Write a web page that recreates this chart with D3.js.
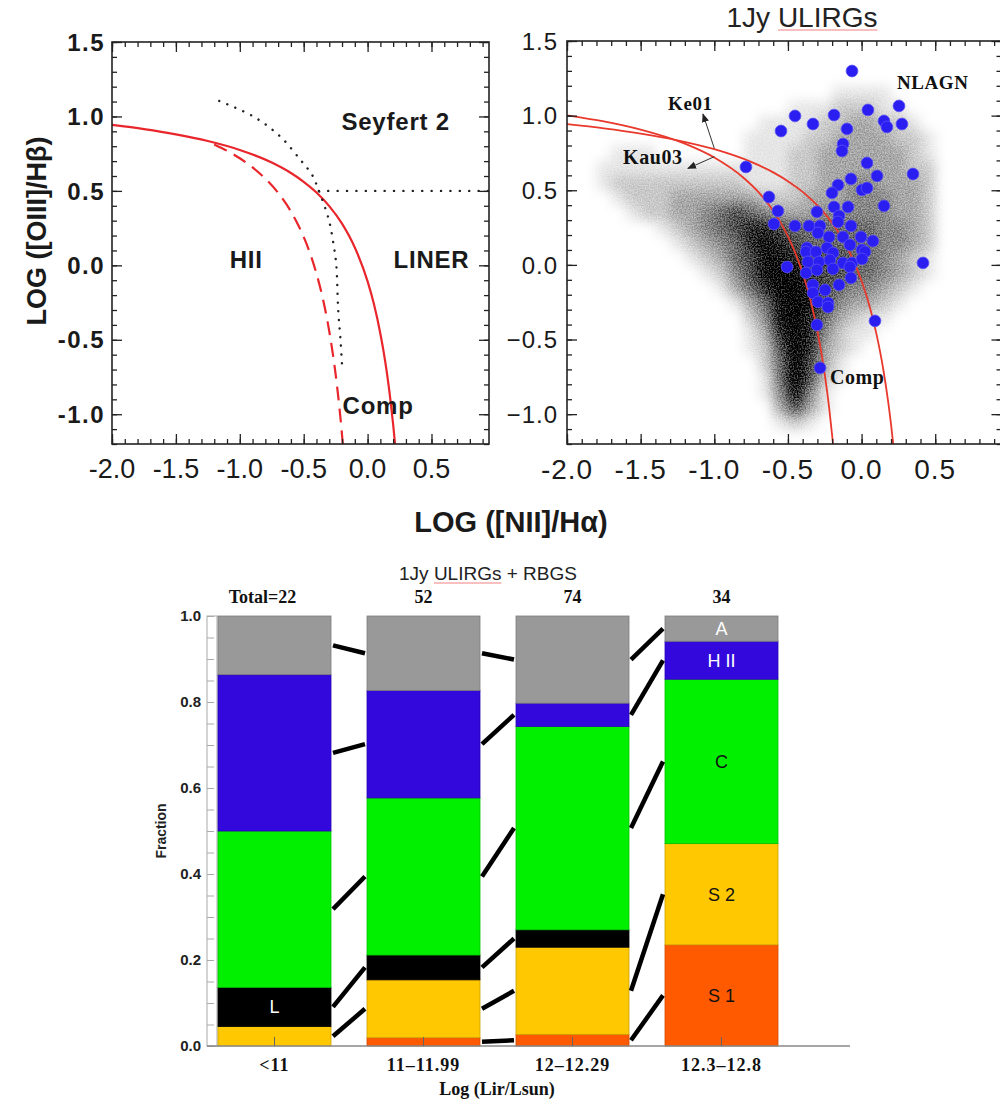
<!DOCTYPE html>
<html>
<head>
<meta charset="utf-8">
<script src="https://cdn.jsdelivr.net/npm/d3@7"></script>
<style>
  body { margin: 0; background: #fff; }
  svg { display: block; }
</style>
</head>
<body>
<svg id="fig" width="1000" height="1103"></svg>
<script>
// ---------------- data ----------------
// Diagnostic curves in the log([NII]/Ha) – log([OIII]/Hb) plane
const ke01Curve = [[-2.0,0.943],[-1.75,0.915],[-1.5,0.880],[-1.25,0.835],[-1.0,0.775],[-0.75,0.690],
  [-0.6,0.620],[-0.5,0.561],[-0.4,0.489],[-0.3,0.398],[-0.2,0.280],[-0.1,0.120],[0.0,-0.108],
  [0.05,-0.262],[0.1,-0.459],[0.125,-0.578],[0.15,-0.716],[0.18,-0.913],[0.2,-1.069],[0.215,-1.202]];
const kau03Curve = [[-2.0,1.002],[-1.75,0.961],[-1.5,0.906],[-1.2,0.812],[-1.0,0.719],[-0.8,0.582],
  [-0.7,0.487],[-0.6,0.362],[-0.55,0.283],[-0.5,0.191],[-0.45,0.080],[-0.4,-0.056],[-0.35,-0.225],
  [-0.3,-0.443],[-0.25,-0.733],[-0.22,-0.959],[-0.2,-1.140],[-0.194,-1.200]];
const dottedCurve = [[-1.161,1.104],[-0.892,0.999],[-0.682,0.864],[-0.525,0.708],[-0.434,0.607],
  [-0.382,0.502],[-0.303,0.305],[-0.264,0.126],[-0.245,0.003],[-0.230,-0.300],[-0.212,-0.500],[-0.198,-0.701]];
const seyfertLine = [[-0.382,0.5],[0.95,0.5]];

// 1Jy ULIRG line ratios (log [NII]/Ha, log [OIII]/Hb)
const ulirgX = [-0.065,-0.452,-0.187,0.043,0.254,-0.330,-0.547,-0.099,0.152,0.172,0.274,-0.126,-0.133,
  -0.785,0.037,0.105,0.349,-0.072,-0.160,-0.201,0.003,0.037,-0.629,0.152,-0.187,-0.092,-0.568,-0.303,
  -0.153,-0.595,-0.452,-0.357,-0.282,-0.160,-0.072,-0.296,-0.004,0.077,-0.221,-0.126,-0.371,-0.506,
  -0.377,-0.310,-0.235,-0.194,-0.079,0.003,0.023,-0.364,-0.289,-0.215,-0.126,-0.065,0.003,-0.377,
  -0.303,-0.194,-0.079,-0.072,-0.153,-0.330,-0.330,-0.248,-0.296,-0.228,-0.228,-0.303,0.091,0.417,-0.282];
const ulirgY = [1.299,0.998,1.004,1.038,1.065,0.944,0.897,0.911,0.964,0.924,0.944,0.810,0.763,
  0.656,0.683,0.596,0.609,0.576,0.535,0.482,0.502,0.515,0.455,0.395,0.388,0.388,0.361,0.355,
  0.328,0.274,0.261,0.261,0.261,0.288,0.261,0.214,0.187,0.160,0.187,0.187,0.114,-0.014,
  0.087,0.087,0.114,0.080,0.134,0.100,0.087,0.020,0.020,0.033,0.013,0.013,0.040,-0.054,
  -0.034,-0.027,-0.014,-0.087,-0.134,-0.134,-0.188,-0.168,-0.248,-0.255,-0.282,-0.402,-0.375,0.013,-0.690];

// SDSS emission-line galaxy density, 0.1 dex cells
// columns: log[NII]/Ha from -1.8 to 0.6, rows: log[OIII]/Hb from 1.3 down to -1.2
const sdssGridX0 = -1.8, sdssGridY0 = 1.3, sdssCell = 0.1;
const sdssDensity = [
  "000000000000000000000000",
  "000000000000000011110000",
  "000000000000011122211000",
  "000000000001111223322100",
  "000000000011112233332210",
  "011100000011122333333210",
  "111111111111122333333220",
  "122222222211122334433320",
  "012223333332223334443320",
  "001223345654333444443320",
  "000012345677655555544320",
  "000001234578765555544320",
  "000000123568876665543210",
  "000000012468987665543210",
  "000000001357997654432100",
  "000000000135898643321000",
  "000000000024897532110000",
  "000000000013797421100000",
  "000000000012697321000000",
  "000000000002596310000000",
  "000000000001596210000000",
  "000000000001484100000000",
  "000000000000363100000000",
  "000000000000121000000000",
  "000000000000000000000000"
];
const densityShade = [0, 0.09, 0.2, 0.32, 0.44, 0.55, 0.67, 0.81, 0.93, 1];

// Spectral class counts per infrared luminosity bin
const lumBins = ["<11", "11\u201311.99", "12\u201312.29", "12.3\u201312.8"];
const classKeys = ["S1", "S2", "L", "C", "HII", "A"];
const countS1  = [0, 1, 2, 8];
const countS2  = [1, 7, 15, 8];
const countL   = [2, 3, 3, 0];
const countC   = [8, 19, 35, 13];
const countHII = [8, 13, 4, 3];
const countA   = [3, 9, 15, 2];
const fractionTicks = [0, 0.2, 0.4, 0.6, 0.8, 1.0];

// ---------------- setup ----------------
const sans = "'Liberation Sans', Arial, Helvetica, sans-serif";
const serif = "'Liberation Serif', 'Times New Roman', Times, serif";
const svg = d3.select("#fig");
const defs = svg.append("defs");

const xDomain = [-2.0, 0.95], yDomain = [-1.2, 1.5];
const xL = d3.scaleLinear().domain(xDomain).range([112, 489]);
const yL = d3.scaleLinear().domain(yDomain).range([444, 42]);
const xR = d3.scaleLinear().domain(xDomain).range([567, 1001.5]);
const yR = d3.scaleLinear().domain(yDomain).range([444, 41]);

const xMinor = d3.range(-20, 10).map(d => d / 10);
const yMinor = d3.range(-12, 16).map(d => d / 10);
const xMajor = [-2, -1.5, -1, -0.5, 0, 0.5];
const yMajor = [-1, -0.5, 0, 0.5, 1, 1.5];

function drawFrame(g, x, y) {
  const [xa, xb] = x.range(), [yb, ya] = y.range();
  const sides = [
    [() => d3.axisBottom(x), `translate(0,${yb})`, xMinor, xMajor],
    [() => d3.axisTop(x), `translate(0,${ya})`, xMinor, xMajor],
    [() => d3.axisLeft(y), `translate(${xa},0)`, yMinor, yMajor],
    [() => d3.axisRight(y), `translate(${xb},0)`, yMinor, yMajor]
  ];
  sides.forEach(([mk, t, minor, major]) => {
    [[minor, -5], [major, -10]].forEach(([vals, len]) => {
      const a = g.append("g").attr("transform", t)
        .call(mk().tickValues(vals).tickSize(len).tickFormat(""));
      a.select(".domain").remove();
      a.selectAll("line").attr("stroke", "#222").attr("stroke-width", 1.3);
    });
  });
  g.append("rect").attr("x", xa).attr("y", ya).attr("width", xb - xa).attr("height", yb - ya)
    .attr("fill", "none").attr("stroke", "#222").attr("stroke-width", 1.6);
}

const lineGen = (x, y) => d3.line().x(d => x(d[0])).y(d => y(d[1])).curve(d3.curveMonotoneX);

// ---------------- left panel: classification scheme ----------------
const gL = svg.append("g");
defs.append("clipPath").attr("id", "clipL").append("rect")
  .attr("x", 112).attr("y", 42).attr("width", 377).attr("height", 402);
const gLc = gL.append("g").attr("clip-path", "url(#clipL)");

gLc.append("path").datum(ke01Curve).attr("d", lineGen(xL, yL))
  .attr("fill", "none").attr("stroke", "#e8262c").attr("stroke-width", 2.2);
gLc.append("path").datum(kau03Curve.filter(d => d[0] >= -1.2)).attr("d", lineGen(xL, yL))
  .attr("fill", "none").attr("stroke", "#e8262c").attr("stroke-width", 2.2).attr("stroke-dasharray", "14,8");
gLc.append("path").datum(dottedCurve).attr("d", d3.line().x(d => xL(d[0])).y(d => yL(d[1])).curve(d3.curveCatmullRom))
  .attr("fill", "none").attr("stroke", "#222").attr("stroke-width", 2.4)
  .attr("stroke-linecap", "round").attr("stroke-dasharray", "0.1,8.6");
gLc.append("path").datum(seyfertLine).attr("d", d3.line().x(d => xL(d[0])).y(d => yL(d[1])))
  .attr("fill", "none").attr("stroke", "#222").attr("stroke-width", 2.4)
  .attr("stroke-linecap", "round").attr("stroke-dasharray", "0.1,9.3");

drawFrame(gL, xL, yL);

gL.append("g").selectAll("text").data(yMajor).join("text")
  .attr("x", 105).attr("y", d => yL(d)).attr("dy", "0.36em")
  .attr("text-anchor", "end").attr("font-family", sans).attr("font-weight", "bold")
  .attr("font-size", 24).attr("letter-spacing", 1.5).attr("fill", "#1a1a1a")
  .text(d => d.toFixed(1));
gL.append("g").selectAll("text").data(xMajor).join("text")
  .attr("x", d => xL(d)).attr("y", 478)
  .attr("text-anchor", "middle").attr("font-family", sans)
  .attr("font-size", 27).attr("fill", "#1a1a1a")
  .text(d => d.toFixed(1));

const leftLabels = [
  { t: "Seyfert 2", x: 0.22, y: 0.91, a: "middle" },
  { t: "HII", x: -0.95, y: -0.02, a: "middle" },
  { t: "LINER", x: 0.5, y: -0.02, a: "middle" },
  { t: "Comp", x: -0.196, y: -0.997, a: "start" }
];
gL.append("g").selectAll("text").data(leftLabels).join("text")
  .attr("x", d => xL(d.x)).attr("y", d => yL(d.y)).attr("text-anchor", d => d.a)
  .attr("font-family", sans).attr("font-weight", "bold").attr("font-size", 24)
  .attr("letter-spacing", 0.8).attr("fill", "#1a1a1a").text(d => d.t);

svg.append("text").attr("transform", "translate(46,231) rotate(-90)")
  .attr("text-anchor", "middle").attr("font-family", sans).attr("font-weight", "bold")
  .attr("font-size", 27).attr("fill", "#1a1a1a").text("LOG ([OIII]/H\u03B2)");
svg.append("text").attr("x", 511).attr("y", 532)
  .attr("text-anchor", "middle").attr("font-family", sans).attr("font-weight", "bold")
  .attr("font-size", 29).attr("fill", "#1a1a1a").text("LOG ([NII]/H\u03B1)");

// ---------------- right panel: 1Jy ULIRGs on the SDSS locus ----------------
const gR = svg.append("g");
defs.append("clipPath").attr("id", "clipR").append("rect")
  .attr("x", 567).attr("y", 41).attr("width", 434.5).attr("height", 403);

// density field rendered as a softly speckled cloud
const cloudFx = defs.append("filter").attr("id", "cloudFx").attr("filterUnits", "userSpaceOnUse")
  .attr("x", 560).attr("y", 35).attr("width", 450).attr("height", 415)
  .attr("color-interpolation-filters", "sRGB");
cloudFx.append("feGaussianBlur").attr("in", "SourceGraphic").attr("stdDeviation", 6).attr("result", "soft");
cloudFx.append("feTurbulence").attr("type", "fractalNoise").attr("baseFrequency", 0.75)
  .attr("numOctaves", 1).attr("seed", 5).attr("result", "noise");
cloudFx.append("feColorMatrix").attr("in", "noise").attr("type", "matrix")
  .attr("values", "0 0 0 0 0  0 0 0 0 0  0 0 0 0 0  2.5 0 0 0 -0.75").attr("result", "grain");
cloudFx.append("feComposite").attr("in", "soft").attr("in2", "grain").attr("operator", "arithmetic")
  .attr("k1", 0.6).attr("k2", 0.72).attr("k3", 0).attr("k4", 0).attr("result", "mix");
cloudFx.append("feColorMatrix").attr("in", "mix").attr("type", "matrix")
  .attr("values", "0 0 0 0 0  0 0 0 0 0  0 0 0 0 0  0 0 0 1 0");

const gRc = gR.append("g").attr("clip-path", "url(#clipR)");
const cells = [];
sdssDensity.forEach((row, j) => {
  row.split("").forEach((c, i) => {
    const v = +c;
    if (v > 0) cells.push({ x: sdssGridX0 + i * sdssCell, y: sdssGridY0 - j * sdssCell, v });
  });
});
gRc.append("g").attr("filter", "url(#cloudFx)")
  .selectAll("rect").data(cells).join("rect")
  .attr("x", d => xR(d.x)).attr("y", d => yR(d.y))
  .attr("width", xR(sdssCell) - xR(0) + 0.5).attr("height", yR(0) - yR(sdssCell) + 0.5)
  .attr("fill", "#000").attr("fill-opacity", d => densityShade[d.v]);

gRc.append("path").datum(ke01Curve).attr("d", lineGen(xR, yR))
  .attr("fill", "none").attr("stroke", "#e8392c").attr("stroke-width", 1.8);
gRc.append("path").datum(kau03Curve).attr("d", lineGen(xR, yR))
  .attr("fill", "none").attr("stroke", "#e8392c").attr("stroke-width", 1.8);

gRc.append("g").selectAll("circle").data(ulirgX.map((x, i) => [x, ulirgY[i]])).join("circle")
  .attr("cx", d => xR(d[0])).attr("cy", d => yR(d[1])).attr("r", 5.9)
  .attr("fill", "#2a1ef0").attr("stroke", "#5a52f5").attr("stroke-width", 0.8);

drawFrame(gR, xR, yR);

// arrows pointing to the curve labels
defs.append("marker").attr("id", "arrowHead").attr("viewBox", "0 0 10 10")
  .attr("refX", 9).attr("refY", 5).attr("markerWidth", 9).attr("markerHeight", 9)
  .attr("markerUnits", "userSpaceOnUse").attr("orient", "auto")
  .append("path").attr("d", "M0,1 L10,5 L0,9 Z").attr("fill", "#222");
const arrows = [
  [[-1.0, 0.781], [-1.077, 1.011]],
  [[-1.0, 0.725], [-1.179, 0.646]]
];
gR.append("g").selectAll("line").data(arrows).join("line")
  .attr("x1", d => xR(d[0][0])).attr("y1", d => yR(d[0][1]))
  .attr("x2", d => xR(d[1][0])).attr("y2", d => yR(d[1][1]))
  .attr("stroke", "#333").attr("stroke-width", 1).attr("marker-end", "url(#arrowHead)");

const rightLabels = [
  { t: "Ke01", x: -1.314, y: 1.038, s: 19 },
  { t: "Kau03", x: -1.62, y: 0.676, s: 20 },
  { t: "NLAGN", x: 0.24, y: 1.18, s: 19 },
  { t: "Comp", x: -0.215, y: -0.80, s: 20 }
];
gR.append("g").selectAll("text").data(rightLabels).join("text")
  .attr("x", d => xR(d.x)).attr("y", d => yR(d.y))
  .attr("font-family", serif).attr("font-weight", "bold").attr("font-size", d => d.s)
  .attr("letter-spacing", 0.6).attr("fill", "#111").text(d => d.t);

gR.append("g").selectAll("text").data(yMajor).join("text")
  .attr("x", 558).attr("y", d => yR(d)).attr("dy", "0.36em")
  .attr("text-anchor", "end").attr("font-family", sans)
  .attr("font-size", 24).attr("letter-spacing", 1).attr("fill", "#1a1a1a")
  .text(d3.format(".1f"));
gR.append("g").selectAll("text").data(xMajor).join("text")
  .attr("x", d => xR(d)).attr("y", 479)
  .attr("text-anchor", "middle").attr("font-family", sans)
  .attr("font-size", 28).attr("letter-spacing", 1).attr("fill", "#1a1a1a")
  .text(d => d.toFixed(1));

function titleWithMark(x, y, size, text, from, len) {
  const t = svg.append("text").attr("x", x).attr("y", y).attr("text-anchor", "middle")
    .attr("font-family", sans).attr("font-size", size).attr("fill", "#222").text(text);
  const n = t.node();
  const x0 = n.getStartPositionOfChar(from).x;
  const w = n.getSubStringLength(from, len);
  svg.append("line").attr("x1", x0).attr("x2", x0 + w).attr("y1", y + 3).attr("y2", y + 3)
    .attr("stroke", "#f08080").attr("stroke-width", 1);
}
titleWithMark(802, 27, 28, "1Jy ULIRGs", 4, 6);

// ---------------- bottom: class fractions versus luminosity ----------------
const counts = { S1: countS1, S2: countS2, L: countL, C: countC, HII: countHII, A: countA };
const totals = lumBins.map((b, i) => d3.sum(classKeys, k => counts[k][i]));
const rows = lumBins.map((b, i) => {
  const r = { bin: b };
  classKeys.forEach(k => r[k] = counts[k][i] / totals[i]);
  return r;
});
const stacked = d3.stack().keys(classKeys)(rows);

const classColor = { S1: "#ff5a00", S2: "#ffc800", L: "#000000", C: "#00f000", HII: "#3308dc", A: "#999999" };
const xB = d3.scaleBand().domain(lumBins).range([218, 778]).paddingInner(0.2416).paddingOuter(0);
const yB = d3.scaleLinear().domain([0, 1]).range([1046, 616]);
const gB = svg.append("g");

// axis strip
gB.append("rect").attr("x", 207).attr("y", yB(1)).attr("width", 10).attr("height", yB(0) - yB(1))
  .attr("fill", "#fff").attr("stroke", "#aaa").attr("stroke-width", 1);
const yAx = gB.append("g").attr("transform", "translate(207,0)")
  .call(d3.axisRight(yB).tickValues(d3.range(0, 21).map(d => d / 20)).tickSize(7).tickFormat(""));
yAx.select(".domain").remove();
yAx.selectAll("line").attr("stroke", "#aaa").attr("stroke-width", 1);

gB.append("g").selectAll("text").data(fractionTicks).join("text")
  .attr("x", 201).attr("y", d => yB(d)).attr("dy", "0.36em").attr("text-anchor", "end")
  .attr("font-family", sans).attr("font-weight", "bold").attr("font-size", 15)
  .attr("fill", "#222").text(d => d.toFixed(1));
gB.append("text").attr("transform", "translate(166,831) rotate(-90)").attr("text-anchor", "middle")
  .attr("font-family", sans).attr("font-weight", "bold").attr("font-size", 14)
  .attr("fill", "#222").text("Fraction");

// stacked segments
gB.append("g").selectAll("g").data(stacked).join("g")
  .attr("fill", d => classColor[d.key])
  .attr("stroke", d => d3.color(classColor[d.key]).darker(0.6))
  .selectAll("rect").data(d => d.filter(s => s[1] - s[0] > 0)).join("rect")
  .attr("x", d => xB(d.data.bin)).attr("width", xB.bandwidth())
  .attr("y", d => yB(d[1])).attr("height", d => yB(d[0]) - yB(d[1]))
  .attr("stroke-width", 0.8);

// connectors between class midpoints of neighbouring bins
const links = [];
stacked.forEach(s => {
  for (let i = 0; i < lumBins.length - 1; i++) {
    const a = s[i], b = s[i + 1];
    if (a[1] - a[0] > 0 && b[1] - b[0] > 0) {
      links.push({
        x1: xB(lumBins[i]) + xB.bandwidth() + 2, y1: yB((a[0] + a[1]) / 2),
        x2: xB(lumBins[i + 1]) - 2, y2: yB((b[0] + b[1]) / 2)
      });
    }
  }
});
gB.append("g").selectAll("line").data(links).join("line")
  .attr("x1", d => d.x1).attr("y1", d => d.y1).attr("x2", d => d.x2).attr("y2", d => d.y2)
  .attr("stroke", "#000").attr("stroke-width", 4.5);

// baseline and bin ticks
gB.append("line").attr("x1", 207).attr("x2", 850).attr("y1", yB(0)).attr("y2", yB(0))
  .attr("stroke", "#888").attr("stroke-width", 1.5);
const xAx = gB.append("g").attr("transform", `translate(0,${yB(0)})`)
  .call(d3.axisTop(xB).tickSize(9).tickFormat(""));
xAx.select(".domain").remove();
xAx.selectAll("line").attr("stroke", "#666").attr("stroke-width", 1);

// class labels inside segments
const segLabels = [
  { bin: 3, key: "A", text: "A", fill: "#fff" },
  { bin: 3, key: "HII", text: "H II", fill: "#fff" },
  { bin: 3, key: "C", text: "C", fill: "#111" },
  { bin: 3, key: "S2", text: "S 2", fill: "#111" },
  { bin: 3, key: "S1", text: "S 1", fill: "#111" },
  { bin: 0, key: "L", text: "L", fill: "#fff" }
];
gB.append("g").selectAll("text").data(segLabels).join("text")
  .attr("x", d => xB(lumBins[d.bin]) + xB.bandwidth() / 2)
  .attr("y", d => { const s = stacked.find(q => q.key === d.key)[d.bin]; return yB((s[0] + s[1]) / 2); })
  .attr("dy", "0.36em").attr("text-anchor", "middle").attr("font-family", sans)
  .attr("font-size", 18).attr("fill", d => d.fill).text(d => d.text);

// totals, bin names, axis title
gB.append("g").selectAll("text").data(lumBins).join("text")
  .attr("x", (d, i) => xB(d) + xB.bandwidth() / 2 - (i === 0 ? 12 : 0)).attr("y", 603)
  .attr("text-anchor", "middle").attr("font-family", serif).attr("font-weight", "bold")
  .attr("font-size", 18).attr("fill", "#111")
  .text((d, i) => i === 0 ? `Total=${totals[i]}` : totals[i]);
gB.append("g").selectAll("text").data(lumBins).join("text")
  .attr("x", d => xB(d) + xB.bandwidth() / 2).attr("y", 1071)
  .attr("text-anchor", "middle").attr("font-family", serif).attr("font-weight", "bold")
  .attr("font-size", 18).attr("letter-spacing", 1).attr("fill", "#111").text(d => d);
gB.append("text").attr("x", 497).attr("y", 1095).attr("text-anchor", "middle")
  .attr("font-family", serif).attr("font-weight", "bold").attr("font-size", 18)
  .attr("fill", "#111").text("Log (Lir/Lsun)");

titleWithMark(488, 580, 19, "1Jy ULIRGs + RBGS", 4, 6);
</script>
</body>
</html>
